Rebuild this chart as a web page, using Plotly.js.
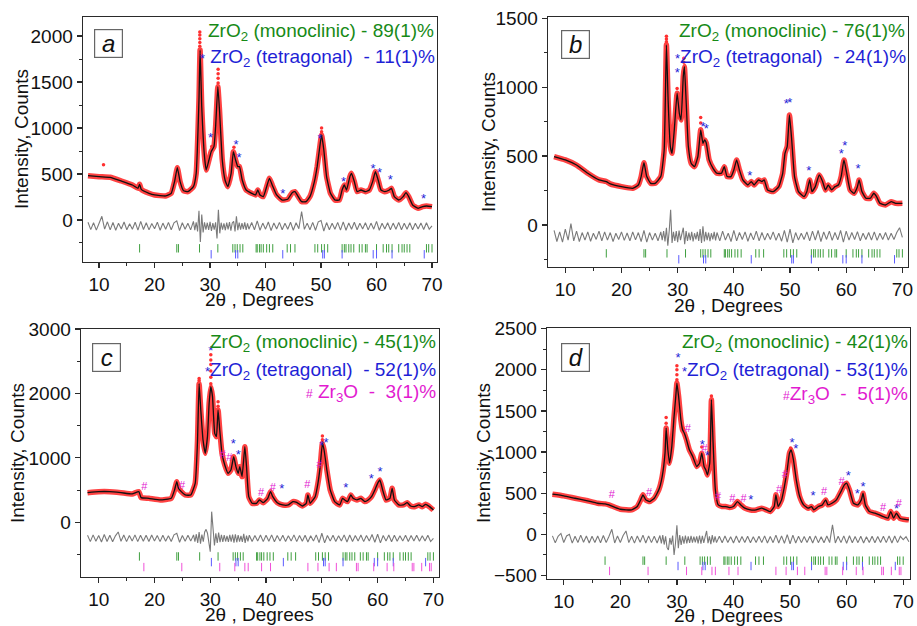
<!DOCTYPE html>
<html><head><meta charset="utf-8">
<script src="https://cdn.plot.ly/plotly-3.0.1.min.js"></script>
<style>html,body{margin:0;padding:0;background:#fff}#chart{width:917px;height:626px}</style>
</head><body><div id="chart"></div>
<script>
// ---------- Calculated profiles (2theta, counts) ----------
const aTheta=[8,10,12,14,16,17,17.3,17.6,19,20,22,23,23.6,24.1,24.6,25.2,26,27,27.5,28,28.2,28.5,29,29.3,29.8,30.2,30.7,31,31.4,31.7,32.2,32.7,33.2,33.8,34.2,34.6,35,35.3,35.8,36.5,37.5,38.2,38.6,39,39.6,40.2,40.7,41.2,42,43,44,44.8,45.3,45.7,46.5,47.3,48,48.8,49.3,49.7,50.1,50.5,51,51.7,52.5,53.3,53.8,54.2,54.6,55.2,55.5,56,56.5,57.2,58,58.7,59.3,59.8,60.3,60.8,61.5,62.3,62.7,63.2,64,64.8,65.3,65.8,66.5,67.5,68.3,69,70];
const aCalc=[482,471,464,424,380,344,388,333,290,272,261,290,417,569,417,319,308,362,507,1304,1848,1232,688,543,652,743,797,1014,1449,1196,652,435,362,507,743,652,580,580,435,326,290,272,326,272,254,362,453,380,272,217,225,297,308,272,199,199,254,417,580,761,924,761,471,290,217,217,326,380,326,471,507,417,308,326,308,326,417,525,435,326,308,326,344,254,217,254,297,254,163,127,145,152,145];

const bTheta=[8,10,12,14,16,17.3,18,20,22,23,23.5,24,24.5,25.2,26,27,27.6,28,28.3,28.7,29,29.4,29.9,30.3,30.6,31,31.2,31.5,31.9,32.4,33,33.6,34.1,34.5,34.8,35.1,35.6,36.3,37,37.8,38.3,38.8,39.5,40,40.5,41,41.6,42.5,43.1,43.6,44.4,45,45.4,46,47,48,48.7,49.1,49.5,49.9,50.3,50.8,51.5,52.5,53,53.5,53.9,54.5,55.2,55.8,56.3,56.8,57.4,58,58.6,59.1,59.6,60.1,60.7,61.4,62,62.3,62.8,63.5,64.3,64.9,65.4,66,67,68,68.8,70];
const bCalc=[496,472,435,375,327,315,298,278,266,290,351,452,351,302,302,351,544,1307,907,569,520,690,956,810,762,1077,1149,907,569,448,423,496,690,593,617,593,472,411,375,375,423,351,351,399,472,399,327,290,315,290,327,315,327,254,242,278,375,520,569,798,617,351,242,206,242,327,242,278,363,315,254,290,254,278,290,351,472,375,254,230,278,327,242,194,194,230,206,157,145,169,157,157];

const cTheta=[8,10,12,14,16,17.2,17.6,19,21,23,23.6,24,24.3,24.8,25.5,26.5,27.3,27.7,28,28.3,28.7,29.1,29.5,29.8,30.1,30.4,30.8,31.1,31.4,31.7,32.1,32.6,33.2,33.7,34.2,34.6,35,35.3,35.7,36.2,36.5,36.9,37.5,38.3,38.8,39.5,40.3,40.8,41.2,42,43,44,44.8,45.5,46.5,47.2,47.5,47.9,48.8,49.3,49.7,50.1,50.4,50.9,51.5,52.3,53.2,53.7,54.1,54.6,55.2,55.6,56.3,57,57.7,58.3,58.9,59.5,60,60.4,60.9,61.5,62.2,62.6,63,63.8,64.6,65.3,65.9,66.6,67.4,68,68.6,69.3,70];
const cCalc=[460,476,476,460,440,476,383,372,347,372,502,631,528,476,424,424,605,1226,2150,1743,1278,1071,1329,1847,2105,1950,1381,1329,1743,1433,1071,890,760,812,1019,864,760,864,709,1174,864,398,295,295,347,305,372,476,398,305,269,269,321,310,253,295,424,295,398,605,864,1226,1122,812,502,321,269,372,347,321,424,372,347,372,321,347,398,502,605,657,502,347,372,528,347,269,269,305,253,243,269,243,279,243,191];

const dTheta=[8,10,12,14,16,17.3,18,20,22,23,23.6,24,24.5,25.2,26,26.8,27.4,27.9,28.1,28.4,28.7,29.1,29.5,29.8,30,30.3,30.7,31,31.3,31.7,32.2,32.8,33.5,34,34.4,34.8,35.1,35.4,35.8,36.1,36.4,36.8,37.3,38,38.6,39.3,40,40.7,41.3,42,43,44,45,45.8,46.5,47.2,47.5,47.9,48.5,49,49.5,49.9,50.2,50.6,51.1,51.7,52.4,53.2,53.8,54.2,55,55.7,56.3,56.7,57.4,58.2,59,59.6,60,60.5,61.2,62,62.6,62.9,63.3,64,65,65.8,66.5,67.3,67.8,68.3,68.8,69.4,70,71];
const dCalc=[487,467,438,410,377,369,357,304,296,337,418,479,418,398,438,540,702,986,1291,1027,864,1067,1433,1676,1838,1676,1392,1270,1230,1149,1027,946,824,864,986,824,783,722,864,1636,1108,540,357,337,337,325,337,398,357,317,296,296,317,296,276,337,479,337,418,580,783,986,1027,905,662,459,357,317,337,296,337,357,418,357,377,418,519,600,621,540,377,357,418,499,357,276,256,235,215,195,276,195,256,195,183,175];

// ---------- Observed points above the fitted peaks ----------
const aObsX=[28.15,28.15,28.15,28.15,28.15,31.45,31.45,31.45,31.45,50.1,50.1,10.8,30.3,34.3];
const aObsY=[1890,1930,1970,2010,2045,1490,1540,1590,1640,960,1000,600,800,790];
const bObsX=[28.0,28.0,28.0,31.1,31.1,34.1,34.1,29.9];
const bObsY=[1330,1350,1370,1180,1210,740,780,990];
const cObsX=[30.1,30.1,30.1,30.1,30.1,30.1,28.0,28.0,31.4,31.4,50.1,50.1];
const cObsY=[2150,2250,2350,2450,2520,2600,2200,2230,1800,1870,1280,1340];
const dObsX=[30.0,30.0,30.0,30.0,28.1,28.1,31.0,31.2,34.4,36.1,50.1];
const dObsY=[1880,1940,2000,2050,1350,1420,1300,1280,1060,1680,1050];

// ---------- Difference curves ----------
const diffTheta=[8,8.5,9,9.5,10,10.5,11,11.5,12,12.5,13,13.5,14,14.5,15,15.5,16,16.5,17,17.5,18,18.5,19,19.5,20,20.5,21,21.5,22,22.5,23,23.5,24,24.5,25,25.5,26,26.5,
27,27.25,27.5,27.75,28,28.25,28.5,28.75,29,29.25,29.5,29.75,30,30.25,30.5,30.75,31,31.25,31.5,31.75,32,32.25,32.5,32.75,33,33.25,33.5,33.75,34,34.25,34.5,34.75,35,35.25,35.5,35.75,36,36.25,36.5,36.75,
37,37.5,38,38.5,39,39.5,40,40.5,41,41.5,42,42.5,43,43.5,44,44.5,45,45.5,46,46.5,47,47.5,48,48.5,49,49.5,50,50.5,51,51.5,52,52.5,53,53.5,54,54.5,55,55.5,56,56.5,57,57.5,58,58.5,59,59.5,60,60.5,61,61.5,62,62.5,63,63.5,64,64.5,65,65.5,66,66.5,67,67.5,68,68.5,69,69.5,70];
const dDiffTheta=[...diffTheta,70.5,71];
const aDiff=[-25,-105,-30,-110,-35,40,-100,-20,-108,-28,-112,-35,-98,-22,-106,-40,-100,-25,-110,-15,-104,-30,-108,-38,-96,-24,-112,-34,-100,-26,-106,-32,-10,-115,-30,-100,-36,-108,
-15,-110,-25,-125,100,-240,60,-135,-25,-105,-30,-108,-20,-118,-35,-105,-25,-200,110,-145,-30,-106,-36,-112,-28,-102,-22,-115,-32,-15,-125,40,-110,-28,-106,-34,-100,-26,-108,-36,
-100,-28,-106,-10,-112,-34,-100,-22,-115,-32,-98,-26,-106,-36,-100,-25,-112,-30,-95,90,-102,-34,-106,-26,-112,-20,-5,-120,-28,-106,-36,-100,-26,-110,-20,-112,-32,-100,-25,-106,-36,-98,-30,-108,-34,-100,-15,-112,-36,-98,-30,-106,-34,-100,-26,-106,-36,-100,-30,-106,-36,-98,-32,-104,-30,-100,-65];
const bDiff=[-40,-120,-50,-125,-30,-110,10,-115,-45,-120,-55,-110,-50,-118,-60,-105,-45,-115,-50,-110,-55,-120,-60,-105,-50,-112,-58,-115,-50,-108,-55,-120,-40,-125,-55,-110,-60,-115,
-50,-110,-45,-120,-20,-150,-40,110,-130,-50,-115,-45,-125,-40,-110,-55,-20,-140,-45,-115,-55,-110,-50,-120,-60,-105,-50,-115,-30,-130,-10,-120,-50,-110,-55,-118,-60,-105,-50,-112,
-55,-115,-45,-110,-60,-120,-40,-115,-55,-105,-50,-118,-58,-108,-45,-115,-55,-110,-60,-105,-50,-112,-60,-118,-40,-125,-30,-130,-55,-110,-60,-105,-50,-115,-45,-110,-40,-120,-50,-105,-45,-112,-55,-108,-40,-125,-45,-110,-55,-105,-48,-115,-60,-105,-55,-110,-50,-112,-60,-105,-55,-110,-60,-105,-55,-20,-90];
const cDiff=[-200,-300,-195,-295,-205,-305,-190,-298,-200,-302,-210,-150,-295,-198,-300,-205,-292,-195,-300,-200,-295,-202,-298,-198,-292,-205,-300,-200,-295,-208,-298,-195,-170,-310,-205,-295,-202,-292,
-195,-300,-185,-320,-150,-330,-190,-300,-150,-110,-170,-350,-455,165,-120,-360,-170,-320,-160,-310,-195,-305,-200,-298,-210,-305,-195,-300,-190,-315,-185,-310,-200,-300,-210,-305,-180,-320,-205,-295,
-200,-298,-205,-292,-198,-300,-202,-295,-195,-302,-205,-292,-200,-298,-208,-292,-195,-300,-205,-295,-200,-305,-210,-292,-195,-315,-170,-320,-205,-292,-200,-298,-210,-290,-195,-305,-198,-298,-205,-292,-198,-300,-205,-292,-190,-310,-185,-320,-205,-292,-198,-302,-202,-295,-208,-292,-200,-298,-205,-292,-202,-295,-208,-292,-202,-298,-250];
const dDiff=[-20,-105,-25,10,-100,-20,0,-108,-25,-100,-10,-98,-22,-106,-25,-100,-20,-104,-15,-100,-25,60,-106,-20,-100,-15,40,-102,-25,-108,-20,-98,-10,-106,-20,-102,-25,-106,
-15,-110,-10,-125,-25,-160,-190,-45,-125,-15,-252,-110,110,-170,-10,-130,-25,-115,-15,-110,-25,-105,-20,-102,-30,-100,-25,-110,-15,-115,-20,-105,-30,40,-108,-25,-120,-10,-100,-25,
-102,-25,-104,-20,-100,-30,-106,-22,-102,-28,-100,-25,-104,-30,-100,-25,-102,-20,-106,-28,-102,-10,-106,-20,-110,-5,-115,-10,-106,-25,-102,-28,-100,-25,-106,-20,-102,-30,-104,-22,-102,114,-106,-25,-102,-20,-110,-18,-104,-28,-102,-25,-106,-30,-100,-25,-104,-28,-100,-25,-102,-20,-106,-22,-102,-25,-65,-30,-90];

// ---------- Bragg reflection positions ----------
const monoPos=[17.3,24.0,24.3,28.1,31.4,34.1,34.5,34.9,35.4,35.9,38.3,38.5,38.9,39.2,39.6,40.2,40.7,41.3,43.9,44.5,45.3,48.9,49.4,50.1,50.6,51.2,53.8,54.2,54.5,55.0,55.4,55.9,56.9,57.4,58.0,58.3,60.0,61.2,61.8,62.2,62.8,64.0,64.6,65.0,65.5,66.0,69.0,69.4,70.0];
const tetraPos=[30.2,34.6,35.0,43.1,50.3,50.6,53.8,59.4,60.0,62.8,68.6];
const zr3oPos=[18.1,24.9,31.7,34.4,36.2,36.8,39.2,40.8,47.5,49.3,51.3,52.6,56.2,56.5,59.3,61.7,62.9,66.2,66.5,67.9,69.3,69.6];

// ---------- Peak labels (* tetragonal, # Zr3O) ----------
const aStarX=[30.1,34.67,35.21,43.1,49.84,54.05,59.35,60.55,62.48,68.49];
const aStarY=[888,804,670,279,870,406,543,507,424,225];
const bStarX=[29.94,34.51,35.1,42.82,49.35,49.94,53.32,59.14,59.73,62.11];
const bStarY=[1096,702,690,351,871,883,387,508,564,404];
const cStarX=[30.08,34.14,35.04,42.81,49.98,50.76,54.29,58.84,60.45];
const cStarY=[2648,1210,1029,502,1174,1226,517,657,771];
const cHashX=[18.19,24.94,32.23,33.43,39.1,41.2,47.41,49.56];
const cHashY=[543,553,1034,993,450,528,569,890];
const dStarX=[30.18,34.49,35.37,43.04,50.35,51.0,54.07,60.27,61.86,62.92,68.82];
const dStarY=[2131,1075,946,406,1096,1027,459,702,479,568,304];
const dHashX=[18.49,25.1,31.95,34.9,37.26,39.8,41.8,48.06,49.06,56.02,59.09,66.46,69.23];
const dHashY=[471,499,1278,1035,450,426,426,540,722,507,629,312,365];

// ---------- Texts ----------
const panelLetters=['a','b','c','d'];
const monoText=['ZrO<sub>2</sub> (monoclinic) - 89(1)%','ZrO<sub>2</sub> (monoclinic) - 76(1)%','ZrO<sub>2</sub> (monoclinic) - 45(1)%','ZrO<sub>2</sub> (monoclinic) - 42(1)%'];
const tetraText=['<span style="font-size:13px">*</span> ZrO<sub>2</sub> (tetragonal)  - 11(1)%','<span style="font-size:13px">*</span>ZrO<sub>2</sub> (tetragonal)  - 24(1)%','<span style="font-size:13px">*</span>ZrO<sub>2</sub> (tetragonal)  - 52(1)%','<span style="font-size:13px">*</span>ZrO<sub>2</sub> (tetragonal) - 53(1)%'];
const zr3oText=[null,null,'<span style="font-size:12px">#</span> Zr<sub>3</sub>O  -  3(1)%','<span style="font-size:12px">#</span>Zr<sub>3</sub>O  -  5(1)%'];
const yTitle='Intensity, Counts';
const xTitle='2θ , Degrees';

// ---------- Layout geometry (pixels) ----------
const W=917,H=626;
const FONT='"Liberation Sans", Arial, Helvetica, sans-serif';
const GREEN='#178a17', BLUE='#1f1fd6', MAG='#e21bd0';
const px=x=>x/W, py=y=>1-y/H;

const panels=[
 {theta:aTheta,calc:aCalc,obsX:aObsX,obsY:aObsY,dx:diffTheta,diff:aDiff,starX:aStarX,starY:aStarY,hashX:null,hashY:null,
  box:[83,437,17,262],xr:[7.1,70.9],yr:[-457,2207],ytv:[0,500,1000,1500,2000],ymin:250,rows:[-308,-373],
  lab:[108.5,43.5],leg:[[436,32],[437,58]],yt:[21,139],xt:[259,299]},
 {theta:bTheta,calc:bCalc,obsX:bObsX,obsY:bObsY,dx:diffTheta,diff:bDiff,starX:bStarX,starY:bStarY,hashX:null,hashY:null,
  box:[548,908,17,267],xr:[6.92,71.0],yr:[-305,1509],ytv:[0,500,1000,1500],ymin:250,rows:[-206,-249],
  lab:[575,44],leg:[[907,32],[908,58]],yt:[489,142],xt:[728,305]},
 {theta:cTheta,calc:cCalc,obsX:cObsX,obsY:cObsY,dx:diffTheta,diff:cDiff,starX:cStarX,starY:cStarY,hashX:cHashX,hashY:cHashY,
  box:[81,439,329,577],xr:[6.83,71.0],yr:[-849,3000],ytv:[0,1000,2000,3000],ymin:500,rows:[-530,-618,-695],
  lab:[106.5,357],leg:[[438,343],[438,371],[438,393]],yt:[17,453],xt:[259,614]},
 {theta:dTheta,calc:dCalc,obsX:dObsX,obsY:dObsY,dx:dDiffTheta,diff:dDiff,starX:dStarX,starY:dStarY,hashX:dHashX,hashY:dHashY,
  box:[547,910,328,579],xr:[7.04,71.2],yr:[-544,2508],ytv:[-500,0,500,1000,1500,2000,2500],ymin:250,rows:[-321,-386,-446],
  lab:[575,357],leg:[[910,343],[910,371],[910,395]],yt:[483,453],xt:[728,615]}
];

const traces=[];
const layout={width:W,height:H,margin:{l:0,r:0,t:0,b:0},paper_bgcolor:'#fff',plot_bgcolor:'#fff',
  showlegend:false,font:{family:FONT,size:19,color:'#111'},annotations:[],shapes:[]};

panels.forEach((p,i)=>{
  const s=i===0?'':String(i+1);
  const xa='x'+s, ya='y'+s;
  const axCommon={showline:true,mirror:true,linecolor:'#2a2a2a',linewidth:1.4,ticks:'outside',ticklen:5,tickwidth:1.2,
    tickcolor:'#2a2a2a',showgrid:false,zeroline:false,tickfont:{family:FONT,size:19,color:'#111'},fixedrange:true};
  layout['xaxis'+s]=Object.assign({},axCommon,{domain:[px(p.box[0]),px(p.box[1])],range:p.xr,anchor:ya,
    tickmode:'array',tickvals:[10,20,30,40,50,60,70],minor:{ticks:'outside',ticklen:3,tickwidth:1,tickcolor:'#2a2a2a',dtick:5,tick0:5}});
  layout['yaxis'+s]=Object.assign({},axCommon,{domain:[py(p.box[3]),py(p.box[2])],range:p.yr,anchor:xa,
    tickmode:'array',tickvals:p.ytv,minor:{ticks:'outside',ticklen:3,tickwidth:1,tickcolor:'#2a2a2a',dtick:p.ymin,tick0:0}});

  // difference curve
  traces.push({type:'scatter',mode:'lines',x:p.dx,y:p.diff,xaxis:xa,yaxis:ya,line:{color:'#7a7a7a',width:1.1},hoverinfo:'skip'});
  // Bragg tick rows
  const rowSets=[[monoPos,'#3f9f3f'],[tetraPos,'#5a5aff']];
  if(p.rows.length===3) rowSets.push([zr3oPos,'#f050d8']);
  rowSets.forEach((r,k)=>{
    traces.push({type:'scatter',mode:'markers',x:r[0],y:r[0].map(()=>p.rows[k]),xaxis:xa,yaxis:ya,
      marker:{symbol:'line-ns',size:6,line:{color:r[1],width:1}},hoverinfo:'skip'});
  });
  // observed (red band)
  traces.push({type:'scatter',mode:'lines',x:p.theta,y:p.calc,xaxis:xa,yaxis:ya,
    line:{color:'rgba(255,40,40,0.88)',width:5.5,shape:'spline',smoothing:0.4},hoverinfo:'skip'});
  traces.push({type:'scatter',mode:'markers',x:p.obsX,y:p.obsY,xaxis:xa,yaxis:ya,
    marker:{color:'#ff3030',size:3.5},hoverinfo:'skip'});
  // calculated
  traces.push({type:'scatter',mode:'lines',x:p.theta,y:p.calc,xaxis:xa,yaxis:ya,
    line:{color:'#111',width:1.3,shape:'spline',smoothing:0.4},hoverinfo:'skip'});
  // peak labels
  traces.push({type:'scatter',mode:'text',x:p.starX,y:p.starY,text:p.starX.map(()=>'*'),xaxis:xa,yaxis:ya,
    textposition:'middle center',textfont:{family:FONT,size:13,color:BLUE},hoverinfo:'skip'});
  if(p.hashX){
    traces.push({type:'scatter',mode:'text',x:p.hashX,y:p.hashY,text:p.hashX.map(()=>'#'),xaxis:xa,yaxis:ya,
      textposition:'middle center',textfont:{family:FONT,size:11,color:MAG},hoverinfo:'skip'});
  }

  // panel letter box
  layout.annotations.push({xref:'paper',yref:'paper',x:px(p.lab[0]),y:py(p.lab[1]),text:'<i>'+panelLetters[i]+'</i>',
    showarrow:false,xanchor:'center',yanchor:'middle',width:27,height:27,bordercolor:'#666',borderwidth:1.2,borderpad:0,
    bgcolor:'#fff',font:{family:FONT,size:24,color:'#111'}});
  // phase legend
  const legs=[[monoText[i],GREEN],[tetraText[i],BLUE]];
  if(zr3oText[i]) legs.push([zr3oText[i],MAG]);
  legs.forEach((l,k)=>{
    layout.annotations.push({xref:'paper',yref:'paper',x:px(p.leg[k][0]),y:py(p.leg[k][1]),text:l[0],showarrow:false,
      xanchor:'right',yanchor:'middle',font:{family:FONT,size:19,color:l[1]}});
  });
  // axis titles
  layout.annotations.push({xref:'paper',yref:'paper',x:px(p.yt[0]),y:py(p.yt[1]),text:yTitle,textangle:-90,showarrow:false,
    xanchor:'center',yanchor:'middle',font:{family:FONT,size:19,color:'#111'}});
  layout.annotations.push({xref:'paper',yref:'paper',x:px(p.xt[0]),y:py(p.xt[1]),text:xTitle,showarrow:false,
    xanchor:'center',yanchor:'middle',font:{family:FONT,size:19,color:'#111'}});
});

Plotly.newPlot('chart',traces,layout,{staticPlot:true,displayModeBar:false});
</script>
</body></html>
